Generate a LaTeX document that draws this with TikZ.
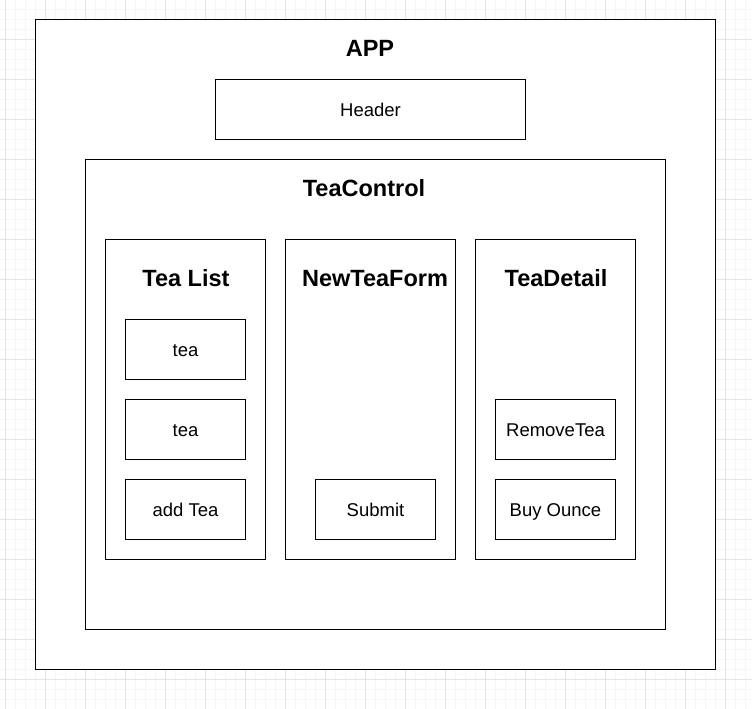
\documentclass[tikz,border=0pt]{standalone}
\usepackage{fontspec}
\setmainfont{Liberation Sans}
\usetikzlibrary{positioning}
\definecolor{gridminor}{rgb}{0.965,0.965,0.965}
\definecolor{gridmajor}{rgb}{0.9,0.9,0.9}

\begin{document}
\begin{tikzpicture}[x=1pt,y=-1pt,
  box/.style={draw=black,line width=1pt,fill=white,inner sep=0pt,
    text height=13.2pt,text depth=0pt,font=\fontsize{18.5}{20}\selectfont},
  title/.style={inner sep=0pt,text height=16.8pt,text depth=0pt,
    font=\fontsize{23.5}{26}\selectfont\bfseries}]
\useasboundingbox (0,0) rectangle (752,709);
\fill[white] (0,0) rectangle (752,709);
% draw the grid
\foreach \i in {5,15,...,745} {
    \draw[draw=gridminor,line width=0.8pt] (\i,0) -- (\i,709);
}
\foreach \i in {9,19,...,709} {
    \draw[draw=gridminor,line width=0.8pt] (0,\i) -- (752,\i);
}
\foreach \i in {5,45,...,745} {
    \draw[draw=gridmajor,line width=0.8pt] (\i,0) -- (\i,709);
}
\foreach \i in {39,79,...,699} {
    \draw[draw=gridmajor,line width=0.8pt] (0,\i) -- (752,\i);
}

% containers
\node[box,minimum width=680pt,minimum height=650pt] (app) at (375.5,344.5) {};
\node[box,minimum width=310pt,minimum height=60pt] (header) at (370.5,109.5) {Header};
\node[box,minimum width=580pt,minimum height=470pt] (teacontrol) at (375.5,394.5) {};
\node[box,minimum width=160pt,minimum height=320pt] (tealist) at (185.5,399.5) {};
\node[box,minimum width=170pt,minimum height=320pt] (newteaform) at (370.5,399.5) {};
\node[box,minimum width=160pt,minimum height=320pt] (teadetail) at (555.5,399.5) {};

% titles
\node[title] (apptitle) at (370,48.5) {APP};
\node[title] (teacontroltitle) at (364,188.5) {TeaControl};
\node[title] (tealisttitle) at (186,278.5) {Tea List};
\node[title] (newteaformtitle) at (375,278.5) {NewTeaForm};
\node[title] (teadetailtitle) at (556,278.5) {TeaDetail};

% inner boxes
\node[box,minimum width=120pt,minimum height=60pt] (teaone) at (185.5,349.5) {tea};
\node[box,minimum width=120pt,minimum height=60pt] (teatwo) at (185.5,429.5) {tea};
\node[box,minimum width=120pt,minimum height=60pt] (addtea) at (185.5,509.5) {add Tea};
\node[box,minimum width=120pt,minimum height=60pt] (submit) at (375.5,509.5) {Submit};
\node[box,minimum width=120pt,minimum height=60pt] (removetea) at (555.5,429.5) {RemoveTea};
\node[box,minimum width=120pt,minimum height=60pt] (buyounce) at (555.5,509.5) {Buy Ounce};

\end{tikzpicture}
\end{document}
